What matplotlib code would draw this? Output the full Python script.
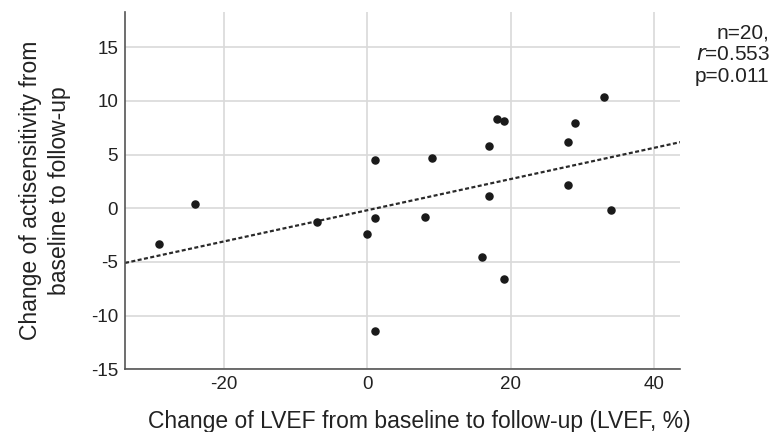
import matplotlib
matplotlib.use("Agg")
import matplotlib.pyplot as plt
import numpy as np

plt.rcParams['font.family'] = ['Liberation Sans', 'DejaVu Sans']
plt.rcParams['axes.unicode_minus'] = False

# Change of LVEF (%) vs change of actisensitivity
lvef_change = [-29, -24, -7, 0, 1, 1, 1, 8, 9, 16, 17, 17, 18, 19, 19, 28, 28, 29, 33, 34]
acti_change = [-3.3, 0.4, -1.3, -2.4, 4.5, -0.9, -11.4, -0.85, 4.65, -4.55,
               5.75, 1.1, 8.35, 8.15, -6.6, 6.15, 2.15, 7.95, 10.35, -0.2]
x_ticks = [-20, 0, 20, 40]
y_ticks = [-15, -10, -5, 0, 5, 10, 15]

fig = plt.figure(figsize=(7.72, 4.32), dpi=100)
ax = fig.add_axes([0.162, 0.145, 0.719, 0.828])

ax.set_xlim(-33.8, 43.6)
ax.set_ylim(-15, 18.3)
ax.set_xticks(x_ticks)
ax.set_yticks(y_ticks)
ax.grid(True, color="#d9d9d9", linewidth=1.2)
ax.set_axisbelow(True)
for s in ["top", "right"]:
    ax.spines[s].set_visible(False)
for s in ["left", "bottom"]:
    ax.spines[s].set_color("#555555")
    ax.spines[s].set_linewidth(1.2)
ax.tick_params(length=0, labelsize=13.5, pad=5, colors="#222222")

# fit line
slope, icpt = np.polyfit(lvef_change, acti_change, 1)
xs = np.array(ax.get_xlim())
ax.plot(xs, slope * xs + icpt, color="#2a2a2a", linewidth=1.6, linestyle=(0, (1.8, 1.1)))

ax.scatter(lvef_change, acti_change, s=26, color="#1a1a1a", zorder=3)

ax.set_xlabel("Change of LVEF from baseline to follow-up (LVEF, %)", fontsize=16.5, labelpad=9,
              color="#222222")
ax.xaxis.set_label_coords(0.53, -0.115)
ax.set_ylabel("Change of actisensitivity from\nbaseline to follow-up", fontsize=16.5, labelpad=14,
              color="#222222", linespacing=1.35)

fig.text(0.997, 0.924, "n=20,", ha="right", va="center", fontsize=15, color="#222222")
fig.text(0.997, 0.873, "$\\it{r}$=0.553", ha="right", va="center", fontsize=15, color="#222222")
fig.text(0.997, 0.822, "p=0.011", ha="right", va="center", fontsize=15, color="#222222")

fig.savefig("out.png", dpi=100)
